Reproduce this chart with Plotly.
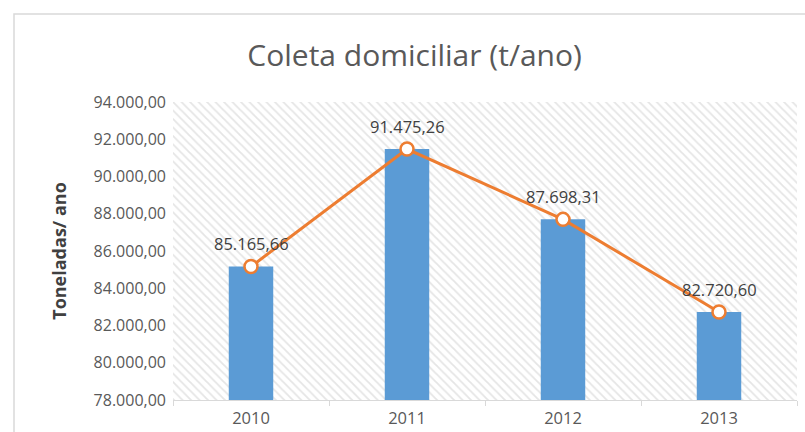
import plotly.graph_objects as go

years = ["2010", "2011", "2012", "2013"]
values = [85165.66, 91475.26, 87698.31, 82720.60]
y_min, y_max = 78000, 94000
tick_vals = list(range(78000, 94001, 2000))

W, H = 805, 432
L, R, T, B = 173, 8, 102, 32
pw, ph = W - L - R, H - T - B


def br(v):
    return f"{v:,.2f}".replace(",", "X").replace(".", ",").replace("X", ".")


fig = go.Figure()

# hatched plot background
fig.add_trace(go.Bar(
    x=years, y=[y_max - y_min] * len(years), base=[y_min] * len(years),
    width=1, marker=dict(color="white", line=dict(width=0),
                         pattern=dict(shape="\\", fgcolor="#cccccc", bgcolor="white",
                                      size=6, solidity=0.3)),
    hoverinfo="skip", showlegend=False))

fig.add_trace(go.Bar(
    x=years, y=[v - y_min for v in values], base=[y_min] * len(values),
    width=0.285, marker=dict(color="#5b9bd5", line=dict(width=0)),
    showlegend=False))

fig.add_trace(go.Scatter(
    x=years, y=values, mode="lines+markers",
    line=dict(color="#ed7d31", width=3),
    marker=dict(size=13, color="white", line=dict(color="#ed7d31", width=2.5)),
    showlegend=False))

annotations = [dict(x=i, y=v, xref="x", yref="y", text=br(v), showarrow=False,
                    yshift=23,
                    font=dict(family="Open Sans", size=16.5, color="#404040"))
               for i, v in enumerate(values)]

fig.update_layout(
    width=W, height=H,
    margin=dict(l=L, r=R, t=T, b=B),
    paper_bgcolor="white", plot_bgcolor="white",
    barmode="overlay",
    separators=",.",
    annotations=annotations,
    title=dict(text="Coleta domiciliar (t/ano)", x=0.515, xanchor="center",
               y=1 - 55 / H, yanchor="middle",
               font=dict(family="Open Sans", size=30, color="#595959")),
    font=dict(family="Open Sans", color="#595959"),
    xaxis=dict(type="category", tickson="boundaries", showgrid=True,
               gridcolor="#d9d9d9", gridwidth=1,
               ticks="outside", ticklen=5, tickcolor="#d9d9d9",
               showline=True, linecolor="#d9d9d9",
               ticklabelstandoff=3, automargin=False,
               tickfont=dict(size=16.5, color="#595959"),
               range=[-0.5, 3.5]),
    yaxis=dict(range=[y_min, y_max], tickvals=tick_vals, tickformat=",.2f",
               showgrid=True, gridcolor="#d9d9d9", gridwidth=1,
               zeroline=False, showline=False, automargin=False,
               ticks="", ticklabelstandoff=6,
               tickfont=dict(size=16, color="#595959"),
               title=dict(text="<b>Toneladas/ ano</b>", standoff=22,
                          font=dict(size=18, color="#404040"))),
    shapes=[dict(type="rect", xref="paper", yref="paper",
                 x0=(14 - L) / pw, x1=(W + 20 - L) / pw,
                 y0=-0.5, y1=(H - B - 14) / ph,
                 line=dict(color="#d9d9d9", width=1.5), fillcolor="rgba(0,0,0,0)",
                 layer="below")],
)

fig.write_html("out.html")
